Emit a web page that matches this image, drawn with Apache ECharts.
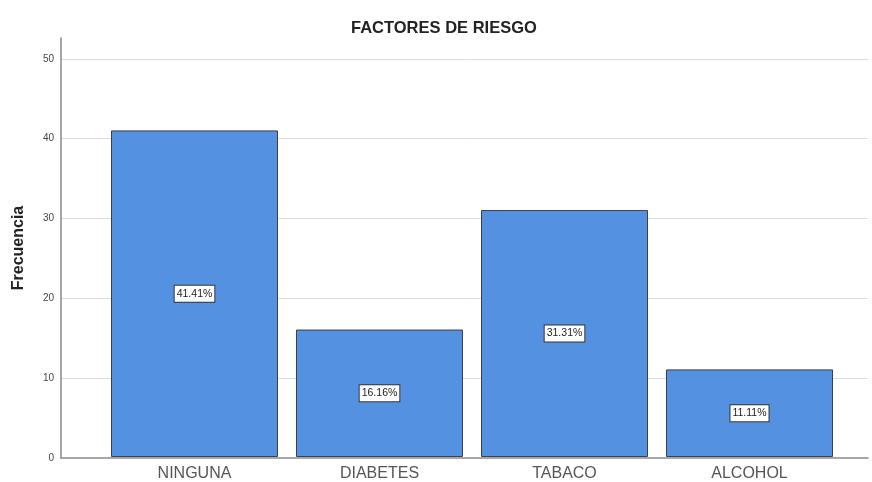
<!DOCTYPE html>
<html>
<head>
<meta charset="utf-8">
<script src="https://cdn.jsdelivr.net/npm/echarts@6/dist/echarts.min.js"></script>
<style>
  html, body { margin: 0; padding: 0; background: #fff; }
  #chart { width: 872px; height: 482px; }
</style>
</head>
<body>
<div id="chart"></div>
<script>
// Risk factor categories and their counts (frequency)
const categories = ['NINGUNA', 'DIABETES', 'TABACO', 'ALCOHOL'];
const counts = [41, 16, 31, 11];
const yTicks = [0, 10, 20, 30, 40, 50];

const total = counts.reduce((a, b) => a + b, 0);
const yMax = 52.6;
const FONT = 'Liberation Sans, Arial, sans-serif';

const chart = echarts.init(document.getElementById('chart'));
chart.setOption({
  animation: false,
  backgroundColor: '#ffffff',
  title: {
    text: 'FACTORES DE RIESGO',
    left: 346,
    top: 15,
    textStyle: { fontFamily: FONT, fontSize: 16.5, fontWeight: 'bold', color: '#222' }
  },
  grid: [
    { left: 61, right: 4, top: 38, bottom: 24 },
    { left: 102, right: 30, top: 38, bottom: 24 }
  ],
  xAxis: [
    {
      gridIndex: 0, type: 'value', min: 0, max: 1,
      axisLine: { show: true, onZero: false, lineStyle: { color: '#8a8a8a', width: 1.5 } },
      axisTick: { show: false }, axisLabel: { show: false }, splitLine: { show: false }
    },
    {
      gridIndex: 1, type: 'category', data: categories,
      axisLine: { show: false }, axisTick: { show: false },
      axisLabel: { margin: 9, fontFamily: FONT, fontSize: 16, color: '#555' }
    }
  ],
  yAxis: [
    {
      gridIndex: 0, type: 'value', min: 0, max: yMax, interval: 10,
      name: 'Frecuencia', nameLocation: 'middle', nameGap: 34, nameRotate: 90,
      nameTextStyle: { fontFamily: FONT, fontSize: 16, fontWeight: 'bold', color: '#222' },
      axisLine: { show: true, lineStyle: { color: '#8a8a8a', width: 1.5 } },
      axisTick: { show: false },
      axisLabel: {
        margin: 7, fontFamily: FONT, fontSize: 10, color: '#444',
        formatter: v => (yTicks.indexOf(v) >= 0 ? String(v) : '')
      },
      splitLine: { show: true, showMinLine: false, showMaxLine: false, lineStyle: { color: '#dcdcdc', width: 1 } }
    },
    {
      gridIndex: 1, type: 'value', min: 0, max: yMax, show: false, splitLine: { show: false }
    }
  ],
  series: [{
    type: 'bar',
    xAxisIndex: 1, yAxisIndex: 1,
    data: counts,
    barWidth: 167,
    itemStyle: { color: '#5492e1', borderColor: '#3a3f48', borderWidth: 1 },
    label: {
      show: true, position: 'inside',
      formatter: p => (p.value / total * 100).toFixed(2) + '%',
      fontFamily: FONT, fontSize: 10.5, color: '#222',
      backgroundColor: '#ffffff', borderColor: '#333', borderWidth: 1,
      padding: [3, 2, 2, 2]
    }
  }]
});
</script>
</body>
</html>
